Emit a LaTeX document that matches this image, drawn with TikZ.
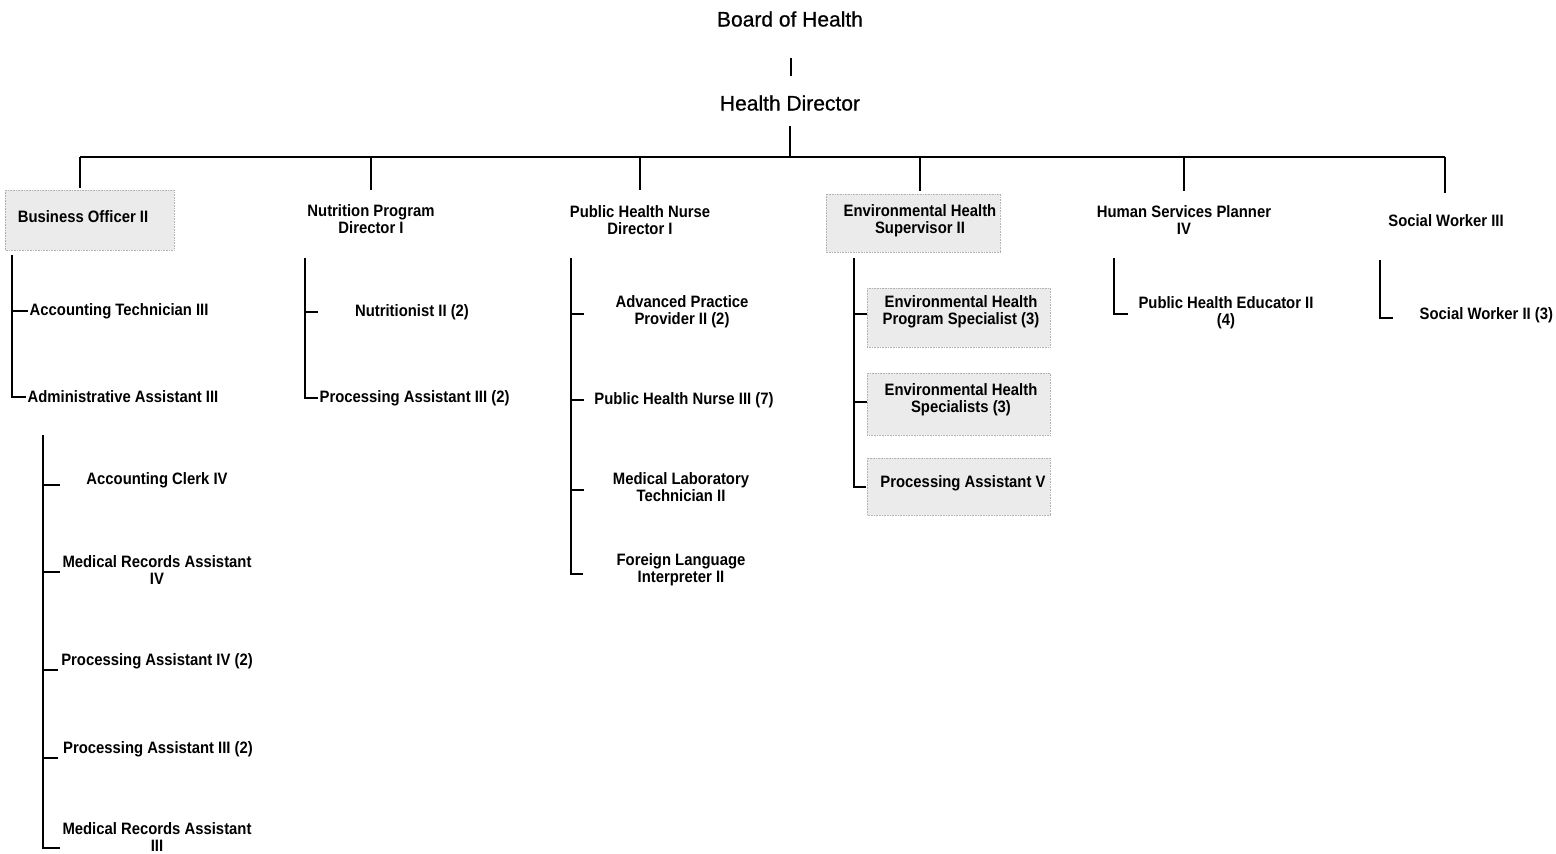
\documentclass[tikz,border=0pt]{standalone}
\usepackage{fontspec}
\setmainfont{Liberation Sans}
\newfontfamily\condfont{Liberation Sans}[FakeStretch=0.9]
\newfontfamily\medfont{Liberation Sans}[FakeBold=0.6]
\begin{document}
\begin{tikzpicture}[x=1pt,y=-1pt,
  top/.style={font=\medfont\fontsize{21}{24}\selectfont, inner sep=0pt},
  lab/.style={font=\condfont\bfseries\fontsize{16.5}{17}\selectfont, align=center, inner sep=0pt},
  llab/.style={lab, anchor=west, inner xsep=1.5pt},
  ln/.style={line width=1.1pt},
  shadebox/.style={fill=black!8, draw=black!30, densely dotted, line width=0.6pt}]
\useasboundingbox (0,0) rectangle (1556,854);
\clip (0,0) rectangle (1556,854);

% shaded boxes
\path[shadebox] (5,190) rectangle (174,250);
\path[shadebox] (826,194) rectangle (1000,252);
\path[shadebox] (867,288) rectangle (1050,347);
\path[shadebox] (867,373) rectangle (1050,435);
\path[shadebox] (867,458) rectangle (1050,515);

% top
\node[top] (board) at (790,19) {Board of Health};
\node[top] (hd) at (790,103) {Health Director};
\coordinate (bus) at (790,157);
\coordinate (busL) at (80,157);
\coordinate (busR) at (1445,157);
\draw[ln] ([xshift=1pt,yshift=-31pt]board.south) -- ([xshift=1pt,yshift=19pt]hd.north);
\draw[ln] ([yshift=-15pt]hd.south) -- (bus);
\draw[ln] (busL) -- (busR);

% heads
\node[lab] (bo)  at (83,217)   {Business Officer II};
\node[lab] (nut) at (371,219)  {Nutrition Program\\Director I};
\node[lab] (phn) at (640,220)  {Public Health Nurse\\Director I};
\node[lab] (env) at (920,221)  {Environmental Health\\Supervisor II};
\node[lab] (hsp) at (1184,220) {Human Services Planner\\IV};
\node[lab] (sw)  at (1446,221) {Social Worker III};

\draw[ln] (busL) -- ++(0,31);
\draw[ln] (bus -| nut) -- ++(0,33);
\draw[ln] (bus -| phn) -- ++(0,33);
\draw[ln] (bus -| env) -- ++(0,34);
\draw[ln] (bus -| hsp) -- ++(0,34);
\draw[ln] (busR) -- ++(0,36);

% Business Officer group
\node[llab] (acct)  at (28,311) {Accounting Technician III};
\node[llab] (admin) at (26,397) {Administrative Assistant III};
\coordinate (bov) at (12,255);
\draw[ln] (bov) |- (admin.west);
\draw[ln] (bov |- acct.west) -- (acct.west);

\node[lab] (clerk) at (157,480) {Accounting Clerk IV};
\node[lab] (mra4)  at (157,570) {Medical Records Assistant\\IV};
\node[lab] (pa4)   at (157,661) {Processing Assistant IV (2)};
\node[lab] (pa3)   at (158,749) {Processing Assistant III (2)};
\node[lab] (mra3)  at (157,837) {Medical Records Assistant\\III};
\coordinate (adv) at (43,435);
\coordinate (adb) at (43,848);
\draw[ln] (adv) -- (adb) -- ++(17,0);
\draw[ln] (adv |- clerk) ++(0,5) -- ++(17,0);
\draw[ln] (adv |- mra4) ++(0,2) -- ++(17,0);
\draw[ln] (adv |- pa4) ++(0,9) -- ++(15,0);
\draw[ln] (adv |- pa3) ++(0,9) -- ++(15,0);

% Nutrition group
\node[lab]  (nutr) at (412,312) {Nutritionist II (2)};
\node[llab] (pa3n) at (318,398) {Processing Assistant III (2)};
\coordinate (nuv) at (305,258);
\draw[ln] (nuv) |- (pa3n.west);
\draw[ln] (nuv |- nutr) -- ++(13,0);

% PHN group
\node[lab] (app)  at (682,312) {Advanced Practice\\Provider II (2)};
\node[lab] (phn3) at (684,400) {Public Health Nurse III (7)};
\node[lab] (mlt)  at (681,487) {Medical Laboratory\\Technician II};
\node[lab] (fli)  at (681,570) {Foreign Language\\Interpreter II};
\coordinate (phv) at (571,258);
\draw[ln] (phv) -- ([yshift=-4pt]phv |- fli) -- ++(12,0);
\draw[ln] (phv |- app) ++(0,2) -- ++(13,0);
\draw[ln] (phv |- phn3) -- ++(13,0);
\draw[ln] (phv |- mlt) ++(0,3) -- ++(13,0);

% Environmental group
\node[lab] (ehps) at (961,312) {Environmental Health\\Program Specialist (3)};
\node[lab] (ehs)  at (961,400) {Environmental Health\\Specialists (3)};
\node[lab] (pa5)  at (963,483) {Processing Assistant V};
\coordinate (env-v) at (854,258);
\draw[ln] (env-v) -- ([yshift=-4pt]env-v |- pa5) -- ++(12,0);
\draw[ln] (env-v |- ehps) ++(0,2) -- ++(13,0);
\draw[ln] (env-v |- ehs) ++(0,2) -- ++(13,0);

% HSP group
\node[lab] (phe) at (1226,313) {Public Health Educator II\\(4)};
\coordinate (hsv) at (1114,258);
\draw[ln] (hsv) -- ++(0,56) -- ++(14,0);

% SW group
\node[llab] (sw2) at (1418,315) {Social Worker II (3)};
\coordinate (swv) at (1380,260);
\draw[ln] (swv) -- ++(0,58) -- ++(13,0);
\end{tikzpicture}
\end{document}
